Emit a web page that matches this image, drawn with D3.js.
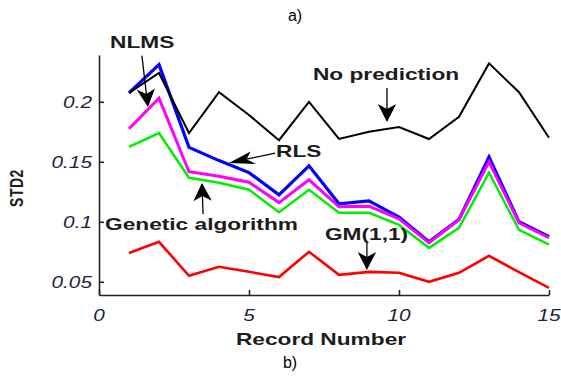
<!DOCTYPE html>
<html>
<head>
<meta charset="utf-8">
<script src="https://cdn.jsdelivr.net/npm/d3@7"></script>
<style>
  html, body { margin: 0; padding: 0; background: #fff; }
  svg { display: block; }
  text { font-family: "Liberation Sans", Arial, Helvetica, sans-serif; }
</style>
</head>
<body>
<script>
// Record numbers and STD2 per prediction method
const records = [1, 2, 3, 4, 5, 6, 7, 8, 9, 10, 11, 12, 13, 14, 15];
const noPrediction = [0.2075, 0.224, 0.174, 0.208, 0.189, 0.168, 0.2, 0.169, 0.175, 0.179, 0.169, 0.1875, 0.232, 0.208, 0.17];
const nlms = [0.2075, 0.231, 0.162, 0.151, 0.141, 0.1225, 0.1467, 0.115, 0.1175, 0.104, 0.0833, 0.102, 0.154, 0.1, 0.0875];
const rls = [0.1775, 0.203, 0.1417, 0.138, 0.133, 0.116, 0.135, 0.1125, 0.113, 0.1025, 0.0825, 0.1017, 0.15, 0.099, 0.0867];
const genetic = [0.1625, 0.174, 0.1367, 0.1325, 0.1267, 0.108, 0.1267, 0.1075, 0.1075, 0.0975, 0.0783, 0.095, 0.141, 0.0933, 0.081];
const gm11 = [0.074, 0.0833, 0.055, 0.0625, 0.0583, 0.054, 0.075, 0.0558, 0.0583, 0.0575, 0.05, 0.0575, 0.0717, 0.058, 0.045];

const xTicks = [0, 5, 10, 15];
const xTickLabels = ["0", "5", "10", "15"];
const yTicks = [0.05, 0.1, 0.15, 0.2];
const yTickLabels = ["0.05", "0.1", "0.15", "0.2"];

const W = 561, H = 376;
const STRETCH = 1.42; // horizontal stretch of the figure's glyphs

const svg = d3.select("body").append("svg").attr("width", W).attr("height", H);

const x = d3.scaleLinear().domain([0, 15]).range([99, 549]);
const y = d3.scaleLinear().domain([0.039, 0.239]).range([295, 55]);

// stretched text helper
function sText(g, px, py, str, opts) {
  const t = g.append("text")
    .attr("transform", `translate(${px},${py}) scale(${opts.sx || STRETCH},1)`)
    .attr("text-anchor", opts.anchor || "start")
    .attr("font-size", opts.size || 16)
    .attr("font-weight", opts.weight || "bold")
    .attr("font-style", opts.style || "normal")
    .attr("fill", opts.fill || "#1c1c1c")
    .text(str);
  if (opts.dy) t.attr("dy", opts.dy);
  return t;
}

// axes (left and bottom only, ticks pointing inward)
const yAxis = d3.axisLeft(y).tickValues(yTicks).tickSizeInner(-5).tickSizeOuter(0).tickFormat("");
const xAxis = d3.axisBottom(x).tickValues(xTicks).tickSizeInner(-5).tickSizeOuter(0).tickFormat("");

svg.append("g").attr("transform", `translate(${x(0)},0)`).call(yAxis)
  .call(g => g.selectAll("path,line").attr("stroke", "#222").attr("stroke-width", 1.6));
svg.append("g").attr("transform", `translate(0,${y(0.039)})`).call(xAxis)
  .call(g => g.selectAll("path,line").attr("stroke", "#222").attr("stroke-width", 1.6));

// tick labels
const labels = svg.append("g");
yTicks.forEach((v, i) => {
  sText(labels, 92, y(v), yTickLabels[i], { anchor: "end", size: 16, weight: "normal", style: "italic", fill: "#1e1e3c", dy: "0.36em", sx: 1.3 });
});
xTicks.forEach((v, i) => {
  sText(labels, x(v), 321, xTickLabels[i], { anchor: "middle", size: 16, weight: "normal", style: "italic", fill: "#1e1e3c", sx: 1.3 });
});

// axis titles
sText(labels, (x(0) + x(15)) / 2 - 3, 345, "Record Number", { anchor: "middle", size: 16 });
labels.append("text")
  .attr("transform", `translate(23,188) scale(1.35,1) rotate(-90)`)
  .attr("text-anchor", "middle")
  .attr("font-size", 14)
  .attr("font-weight", "bold")
  .attr("fill", "#1c1c1c")
  .attr("letter-spacing", 0.5)
  .text("STD2");

// panel captions
svg.append("text").attr("x", 295).attr("y", 21).attr("text-anchor", "middle")
  .attr("font-size", 16).attr("fill", "#000").text("a)");
svg.append("text").attr("x", 290).attr("y", 368).attr("text-anchor", "middle")
  .attr("font-size", 16).attr("fill", "#000").text("b)");

// series lines
const line = d3.line().x((d, i) => x(records[i])).y(d => y(d));
const series = [
  { values: nlms, color: "#0000ff", width: 3.2 },
  { values: rls, color: "#ff00ff", width: 3 },
  { values: genetic, color: "#00ee00", width: 2.5 },
  { values: gm11, color: "#ff0000", width: 2.6 },
  { values: noPrediction, color: "#000000", width: 2 }
];
svg.append("g").selectAll("path").data(series).join("path")
  .attr("d", d => line(d.values))
  .attr("fill", "none")
  .attr("stroke", d => d.color)
  .attr("stroke-width", d => d.width)
  .attr("stroke-linejoin", "miter");

// annotations (data coordinates)
const notes = [
  { label: "NLMS", tx: 0.37, ty: 0.2448, from: [1.43, 0.2385], to: [1.63, 0.1957] },
  { label: "No prediction", tx: 7.13, ty: 0.2182, from: [9.6, 0.2115], to: [9.6, 0.1832] },
  { label: "RLS", tx: 5.9, ty: 0.154, from: [5.87, 0.1573], to: [4.33, 0.149] },
  { label: "Genetic algorithm", tx: 0.2, ty: 0.0932, from: [3.47, 0.1065], to: [3.43, 0.1323] },
  { label: "GM(1,1)", tx: 7.53, ty: 0.0848, from: [8.93, 0.0823], to: [8.93, 0.0598] }
];

const ann = svg.append("g");
function arrow(g, x1, y1, x2, y2) {
  // work in unstretched space so the head widens with the glyph stretch
  const ux1 = x1 / STRETCH, ux2 = x2 / STRETCH;
  const dx = ux2 - ux1, dy = y2 - y1;
  const len = Math.hypot(dx, dy);
  const ex = dx / len, ey = dy / len;
  const nx = -ey, ny = ex;
  const L = 18, Wd = 6.5, notch = 13;
  const pts = [
    [ux2, y2],
    [ux2 - ex * L + nx * Wd, y2 - ey * L + ny * Wd],
    [ux2 - ex * notch, y2 - ey * notch],
    [ux2 - ex * L - nx * Wd, y2 - ey * L - ny * Wd]
  ].map(p => [p[0] * STRETCH, p[1]]);
  const stemEnd = [(ux2 - ex * notch) * STRETCH, y2 - ey * notch];
  g.append("line").attr("x1", x1).attr("y1", y1).attr("x2", stemEnd[0]).attr("y2", stemEnd[1])
    .attr("stroke", "#000").attr("stroke-width", 1.3);
  g.append("path").attr("d", "M" + pts.map(p => p.join(",")).join("L") + "Z").attr("fill", "#000");
}
notes.forEach(n => {
  sText(ann, x(n.tx), y(n.ty), n.label, { size: 16 });
  arrow(ann, x(n.from[0]), y(n.from[1]), x(n.to[0]), y(n.to[1]));
});
</script>
</body>
</html>
